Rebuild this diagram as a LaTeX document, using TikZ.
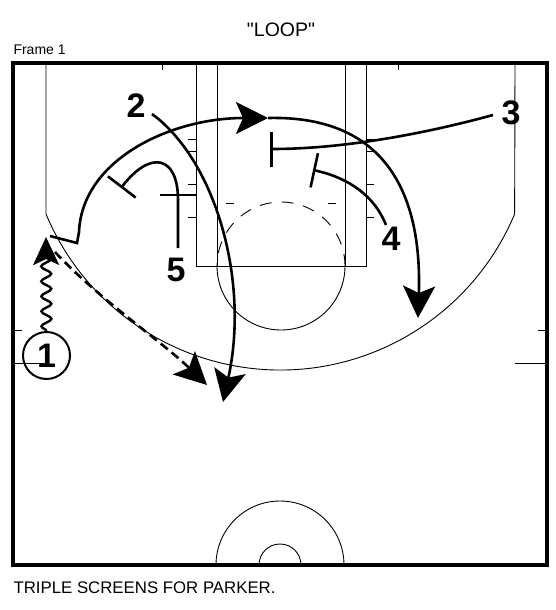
\documentclass[tikz,border=0pt]{standalone}
\usepackage{fontspec}
\setmainfont{Liberation Sans}[Ligatures=TeXOff]
\usetikzlibrary{arrows.meta,decorations.pathmorphing}

\begin{document}
\begin{tikzpicture}[x=1pt,y=-1pt,court/.style={line width=0.9pt},
  move/.style={line width=2.6pt,-{Stealth[length=32pt,width=32pt,inset=7pt]}},
  screen/.style={line width=2.6pt,-{Bar[width=35pt]}},
  player/.style={font=\bfseries\fontsize{34}{34}\selectfont,inner sep=1pt}]
\tikzstyle{pass} = [move,dash pattern=on 9pt off 5pt]
\tikzstyle{dribble} = [line width=2.4pt,decorate,decoration={snake,amplitude=5pt,segment length=15pt,post length=14pt},-{Stealth[length=28pt,width=26pt,inset=6pt]}]

\useasboundingbox (0,0) rectangle (556,610);

\node (title) at (281,30) {\fontsize{19.5}{19.5}\selectfont "LOOP"};
\node[anchor=west] (frame) at (10,50) {\fontsize{14}{14}\selectfont Frame 1};
\node[anchor=west] (caption) at (10,588) {\fontsize{16.8}{16.8}\selectfont TRIPLE SCREENS FOR PARKER.};

% court
\draw[court] (196,63) rectangle (366,266);
\draw[court] (217,63) -- (217,266);
\draw[court] (345,63) -- (345,266);
\foreach \y in {139,151,184,217} {
  \draw[court] (196,\y) -- (188,\y);
  \draw[court] (366,\y) -- (374,\y);
}
\draw[court] (281,266) +(64pt,0) arc[start angle=0,end angle=-180,radius=64pt];
\draw[court,dash pattern=on 12pt off 10pt] (281,266) +(64pt,0) arc[start angle=0,end angle=180,radius=64pt];
\draw[court] (226,203) -- (234,203);
\draw[court] (328,203) -- (336,203);
\draw[court] (46,63) -- (46,214) arc[start angle=202.7,end angle=337.3,radius=254pt] -- (515,63);
\draw[court] (162,63) -- (162,70);
\draw[court] (398,63) -- (398,70);
\draw[court] (13,330) -- (22,330);
\draw[court] (13,363) -- (45,363);
\draw[court] (547,330) -- (538,330);
\draw[court] (547,363) -- (515,363);
\draw[court] (344,565) arc[start angle=0,end angle=180,radius=64pt];
\draw[court] (301,565) arc[start angle=0,end angle=180,radius=21pt];
\draw[line width=3.5pt] (13,63) rectangle (547,565);

% players
\node[player,circle,draw,line width=2pt,minimum size=47pt,inner sep=0pt] (p1) at (46.5,355.5) {1};
\node[player] (n2) at (136,106) {2};
\node[player] (n3) at (511,113) {3};
\node[player] (n4) at (391,239) {4};
\node[player] (n5) at (176,270) {5};

\coordinate (drib) at (46,237);
\coordinate (loopa) at (50,236);
\coordinate (loopb) at (77,243);
\coordinate (loopc) at (79,232);
\coordinate (loopd) at (268,118);
\coordinate (loope) at (418,318);
\coordinate (passa) at (55,252);
\coordinate (passb) at (207,385);
\coordinate (from2) at (152,114);
\coordinate (cut2) at (223,402);
\coordinate (from3) at (493,115);
\coordinate (scr3) at (270,149);
\coordinate (from4) at (386,225);
\coordinate (scr4) at (313,170);
\coordinate (from5) at (178,248);
\coordinate (post5) at (178,200);
\coordinate (scr5) at (121,188);
\coordinate (scra) at (160,195);
\coordinate (scrb) at (196,195);

% moves
\draw[dribble] (p1.north) -- (drib);
\draw[line width=2.6pt] (loopa) -- (loopb) -- (loopc);
\draw[move] (loopc) .. controls (82,160) and (170,118) .. (loopd);
\draw[move] (loopd) .. controls (390,115) and (422,200) .. (loope);
\draw[pass] (passa) .. controls (100,300) and (160,340) .. (passb);
\draw[move] (from2) .. controls (215,160) and (250,280) .. (cut2);

% screens
\draw[screen] (from3) .. controls (420,135) and (340,149) .. (scr3);
\draw[screen] (from4) .. controls (375,197) and (350,178) .. (scr4);
\draw[screen] (from5) -- (post5) .. controls (178,155) and (150,150) .. (scr5);
\draw[line width=2.6pt] (scra) -- (scrb);

\end{tikzpicture}
\end{document}
